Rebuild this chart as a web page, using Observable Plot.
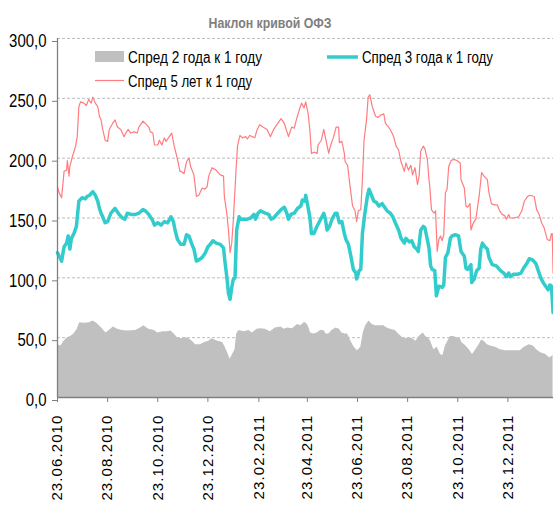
<!DOCTYPE html>
<html><head><meta charset="utf-8">
<script src="https://cdn.jsdelivr.net/npm/d3@7"></script>
<script src="https://cdn.jsdelivr.net/npm/@observablehq/plot@0.6"></script>
<style>
body{margin:0;background:#fff}
#wrap{width:553px;height:506px;overflow:hidden}
</style></head>
<body><div id="wrap"></div>
<script>
const titleText = "Наклон кривой ОФЗ";
const legendLabels = ["Спред 2 года к 1 году", "Спред 3 года к 1 году", "Спред 5 лет к 1 году"];
const startDate = new Date(Date.UTC(2010, 5, 23));
const endDay = 603.5;
const tickDates = ["2010-06-23","2010-08-23","2010-10-23","2010-12-23","2011-02-23","2011-04-23","2011-06-23","2011-08-23","2011-10-23","2011-12-23"];
const yTicks = [0, 50, 100, 150, 200, 250, 300];

// Спред 5 лет к 1 году: days since 23.06.2010, values
const spread5Days = [0,2,5,8,11,12,14,15,18,22,24,26,28,32,35,38,41,43,46,49,51,53,55,58,61,63,67,70,73,77,81,83,86,89,93,97,99,104,107,111,113,116,118,122,124,127,130,132,136,139,142,146,149,150,154,157,160,162,166,169,172,176,179,182,184,188,193,198,202,203,206,208,210,212,214,217,219,222,225,229,231,234,237,240,243,246,250,255,259,263,268,272,276,281,285,288,291,294,297,300,302,305,307,309,312,316,317,321,324,327,330,332,336,339,342,343,346,349,350,353,355,357,359,362,364,366,369,371,373,376,378,380,383,387,390,393,397,399,403,407,409,412,415,418,422,424,427,430,432,435,438,440,442,445,447,450,452,453,455,458,460,462,464,466,468,470,472,474,476,479,482,486,490,491,495,497,499,502,503,506,509,513,516,519,523,525,528,531,535,538,541,544,546,549,551,555,561,565,568,572,575,580,583,586,589,592,596,599,601,602,603];
const spread5Values = [176,171,167,189,190,198,185,193,201,210,218,243,247,246,244,249,246,251,246,243,235,232,224,215,214,224,229,232,226,224,218,221,224,221,222,221,226,231,229,226,222,221,211,211,215,211,217,214,218,221,210,199,189,189,187,197,200,193,186,168,169,175,174,176,185,192,190,186,185,168,154,140,121,129,149,187,210,219,217,218,216,219,218,217,224,228,226,224,218,224,229,233,229,218,226,225,233,240,246,242,247,237,224,204,205,204,211,215,224,214,204,210,218,226,226,213,214,204,197,194,182,171,160,156,147,156,157,182,215,232,251,253,243,235,234,236,237,229,226,221,218,210,207,197,189,196,190,194,186,192,178,185,206,210,208,199,182,176,157,154,156,122,132,135,131,136,171,174,193,198,199,198,196,182,175,160,159,162,140,146,149,168,188,185,182,171,162,161,161,156,153,152,149,153,150,150,151,156,164,168,169,168,157,153,146,142,132,131,137,137,104];

// Спред 3 года к 1 году
const spread3Days = [0,2,5,8,11,13,15,17,20,23,26,30,34,36,39,43,46,49,51,53,55,58,61,65,70,75,79,82,85,89,95,99,104,107,111,115,118,122,126,130,134,138,141,143,146,150,154,157,160,163,166,169,172,176,180,183,186,189,193,198,202,204,206,208,210,212,214,216,218,221,223,227,231,235,239,241,244,247,253,257,260,263,268,272,276,279,281,284,288,292,296,298,301,302,304,307,309,312,315,318,321,324,326,328,331,334,338,340,343,346,349,351,354,357,360,363,364,367,369,371,374,377,379,382,385,388,391,395,398,401,405,408,411,415,418,422,424,428,431,434,437,439,442,445,447,450,452,454,456,459,461,464,468,470,472,475,478,480,484,488,491,495,497,499,503,504,507,510,513,515,517,520,523,525,529,534,539,543,546,549,551,555,560,564,567,571,574,578,582,585,588,591,594,597,599,601,602,603];
const spread3Values = [121,118,114,126,129,135,124,133,137,143,164,167,166,168,169,172,169,164,158,154,151,146,147,154,158,153,150,149,154,153,153,154,157,156,153,149,144,146,144,147,146,151,147,140,132,128,128,136,135,129,124,114,115,117,121,126,128,131,129,128,125,112,101,87,82,92,99,100,140,151,149,149,149,150,153,149,154,156,154,153,149,150,154,157,159,154,149,153,154,158,160,165,164,169,162,151,137,137,142,146,150,154,149,140,143,149,154,154,146,147,137,132,128,118,107,104,99,106,107,137,154,168,174,169,164,163,160,162,159,156,154,151,146,140,133,129,133,130,131,126,124,122,140,143,142,132,125,110,107,106,85,93,92,94,117,121,133,135,136,135,122,118,108,107,111,96,99,106,108,124,129,126,124,117,111,110,106,104,101,104,101,103,103,104,108,112,116,115,112,106,100,96,93,90,94,93,82,71];

// Спред 2 года к 1 году
const spread2Days = [0,4,8,12,16,20,24,27,32,39,43,47,51,55,59,63,68,73,79,85,95,101,105,111,118,122,128,134,138,142,146,150,156,160,164,168,174,179,184,188,195,201,204,207,210,213,216,218,221,227,233,237,243,247,253,259,265,272,276,280,286,292,296,300,302,305,308,312,316,320,324,327,330,334,339,343,346,350,353,357,361,365,369,372,375,379,383,387,393,397,401,405,411,415,420,424,428,432,436,440,445,448,452,454,458,462,466,469,472,475,478,482,486,490,492,497,501,505,509,513,516,519,523,527,533,539,545,551,557,563,568,574,579,583,588,594,599,603];
const spread2Values = [44,43,47,50,51,53,57,62.5,62,62.5,64,62.5,60,57,54,56,59,57,56,55.5,56,58,60,57,56,54,55,55,55.5,53,50,49,50,49,47,44,44,46,47,49,47,46,42,37.5,32,36,40,53,56,55,56,54,57,57.5,57,55,58,59,57,58,57.5,61,60,62.5,62.5,60,54,53,54,56,56,53,53,56,58,57,54,53,53,47,42,39,42,54,60,64,61,60,60,60,58,57,56,53,50,49,50,49,47,51,54,51,49,47,40,42,36,35,43,47,51,51,50,49,46,43,40,36,40,44,48,47,44,43,42,40,39,39,39,39,42,44,43,40,37.5,36,33,35];

const toDate = d => new Date(startDate.getTime() + d * 864e5);
const mk = (days, vals) => days.map((d, i) => ({date: toDate(d), value: vals[i]}));
const s2 = mk(spread2Days, spread2Values);
const s3 = mk(spread3Days, spread3Values);
const s5 = mk(spread5Days, spread5Values);
const fmtY = d => d.toFixed(1).replace(".", ",");
const font = "'Liberation Sans', Arial, sans-serif";

const plot = Plot.plot({
  width: 553, height: 506,
  marginLeft: 57, marginRight: 0, marginTop: 38, marginBottom: 109,
  style: {fontFamily: font, background: "#fff", overflow: "visible"},
  x: {type: "utc", domain: [startDate, toDate(endDay)], label: null},
  y: {domain: [0, 300], label: null},
  marks: [
    Plot.gridY(yTicks.filter(d => d > 0), {stroke: "#bdbdbd", strokeOpacity: 1, strokeDasharray: "3,2", strokeWidth: 1}),
    Plot.areaY(s2, {x: "date", y: "value", fill: "#c0c0c0"}),
    Plot.lineY(s5, {x: "date", y: "value", stroke: "#ff7c80", strokeWidth: 1.2}),
    Plot.lineY(s3, {x: "date", y: "value", stroke: "#33cccc", strokeWidth: 3.5}),
    Plot.ruleX([startDate], {stroke: "#808080", strokeWidth: 1.3}),
    Plot.ruleY([0], {stroke: "#808080", strokeWidth: 1.3}),
    Plot.axisY(yTicks, {tickSize: 5, tickPadding: 6, tickFormat: fmtY, fontSize: 18, stroke: "#808080", dy: 3, label: null}),
    Plot.axisX(tickDates.map(s => new Date(s + "T00:00:00Z")), {tickSize: 5, tickRotate: -90, tickPadding: 12, fontSize: 15, tickFormat: d3.utcFormat("%d.%m.%Y"), stroke: "#808080", label: null})
  ]
});
document.getElementById("wrap").appendChild(plot);

const svg = d3.select(plot);
svg.selectAll("g[aria-label='x-axis tick label'] text").attr("letter-spacing", "1.1px");
// condense y tick labels (narrow typeface look)
svg.selectAll("g[aria-label='y-axis tick label'] text").each(function() {
  const w = this.getComputedTextLength();
  d3.select(this).attr("textLength", w * 0.83).attr("lengthAdjust", "spacingAndGlyphs");
});
svg.append("text").attr("x", 270).attr("y", 28.3).attr("text-anchor", "middle")
  .attr("font-weight", "bold").attr("fill", "#7f7f7f").attr("font-size", 15.5)
  .attr("textLength", 123).attr("lengthAdjust", "spacingAndGlyphs").text(titleText);
const leg = svg.append("g").attr("font-size", 16).attr("fill", "#000").attr("text-anchor", "start");
leg.append("rect").attr("x", 95).attr("y", 51).attr("width", 29).attr("height", 11).attr("fill", "#c0c0c0");
leg.append("text").attr("x", 128).attr("y", 63).attr("textLength", 134).attr("lengthAdjust", "spacingAndGlyphs").text(legendLabels[0]);
leg.append("line").attr("x1", 327).attr("x2", 358).attr("y1", 57).attr("y2", 57).attr("stroke", "#33cccc").attr("stroke-width", 3.5);
leg.append("text").attr("x", 362).attr("y", 63).attr("textLength", 131).attr("lengthAdjust", "spacingAndGlyphs").text(legendLabels[1]);
leg.append("line").attr("x1", 95).attr("x2", 124).attr("y1", 80.5).attr("y2", 80.5).attr("stroke", "#ff7c80").attr("stroke-width", 1.2);
leg.append("text").attr("x", 128).attr("y", 87).attr("textLength", 124).attr("lengthAdjust", "spacingAndGlyphs").text(legendLabels[2]);
</script>
</body></html>
